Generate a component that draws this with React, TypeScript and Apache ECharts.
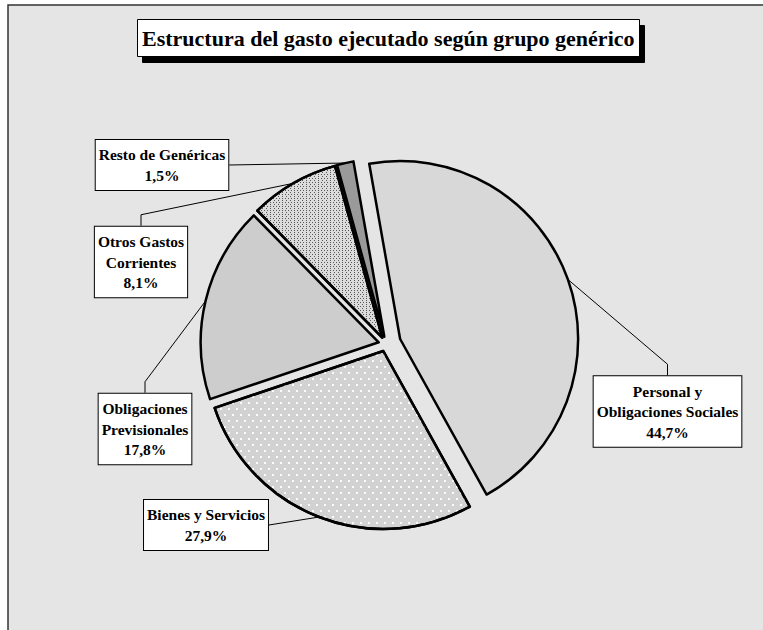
import React, { useEffect, useRef } from "react";
import * as echarts from "echarts";

// ---- data ----
const titleText = "Estructura del gasto ejecutado según grupo genérico";
const categories = [
  "Personal y\nObligaciones Sociales",
  "Bienes y Servicios",
  "Obligaciones\nPrevisionales",
  "Otros Gastos\nCorrientes",
  "Resto de Genéricas",
];
const shares = [44.7, 27.9, 17.8, 8.1, 1.5];

// ---- layout / style (not data) ----
const W = 763;
const H = 630;
const pieCenter = [386, 344];
const pieRadius = 178;
const pieStartAngle = 100;
const explode = [15, 7.5, 7.5, 7.5, 7.5];
const labelCenters = [
  [667.5, 411.5],
  [206, 525],
  [145, 429],
  [141, 262],
  [162, 165],
];
const leaderSide = ["top", "right", "top", "top", "right"];
const sliceColors = ["#d8d8d8", "#d2d2d2", "#cdcdcd", "#dcdcdc", "#9a9a9a"];
const sliceDecals: any[] = [
  null,
  {
    symbol: "rect",
    symbolSize: 1,
    color: "rgba(255,255,255,0.9)",
    dashArrayX: [[2, 6], [0, 4, 2, 2]],
    dashArrayY: [2, 4],
    rotation: 0,
  },
  null,
  {
    symbol: "rect",
    symbolSize: 1,
    color: "rgba(30,30,30,0.7)",
    dashArrayX: [[1, 2], [0, 1.5, 1, 0.5]],
    dashArrayY: [1, 1],
    rotation: 0,
  },
  null,
];
const serif = "'Liberation Serif', 'Times New Roman', serif";

const fmtPct = (v: number) => v.toFixed(1).replace(".", ",") + "%";

const total = shares.reduce((a, b) => a + b, 0);

// exploded centre of slice i (pie explosion along the slice bisector)
function sliceCenter(i: number) {
  let before = 0;
  for (let j = 0; j < i; j++) before += shares[j];
  const startFromTop = 90 - pieStartAngle;
  const mid = startFromTop + ((before + shares[i] / 2) / total) * 360;
  const rad = (mid * Math.PI) / 180;
  return [
    pieCenter[0] + explode[i] * Math.sin(rad),
    pieCenter[1] - explode[i] * Math.cos(rad),
  ];
}

function buildData(k: number) {
  return categories.map((name, i) => {
    const show = i === k;
    const itemStyle: any = show
      ? {
          color: sliceColors[i],
          borderColor: "#000",
          borderWidth: 2.5,
          ...(sliceDecals[i] ? { decal: sliceDecals[i] } : {}),
        }
      : { color: "rgba(0,0,0,0)", borderWidth: 0, borderColor: "rgba(0,0,0,0)" };
    return {
      name,
      value: shares[i],
      itemStyle,
      label: { show },
      labelLine: { show },
    };
  });
}

function pieSeries(k: number) {
  return {
    type: "pie",
    center: sliceCenter(k),
    radius: pieRadius,
    startAngle: pieStartAngle,
    clockwise: true,
    avoidLabelOverlap: false,
    silent: true,
    emphasis: { disabled: true },
    label: {
      show: true,
      position: "outside",
      formatter: (p: any) => `${p.name}\n${fmtPct(p.value)}`,
      fontFamily: serif,
      fontWeight: "bold",
      fontSize: 15.5,
      lineHeight: 20.5,
      color: "#000",
      align: "center",
      backgroundColor: "#fff",
      borderColor: "#000",
      borderWidth: 1,
      padding: [4.5, 3, 4.5, 3],
    },
    labelLine: {
      show: true,
      length: 10,
      length2: 11,
      lineStyle: { color: "#000", width: 1 },
    },
    labelLayout: (params: any) => {
      const i = params.dataIndex;
      const c = labelCenters[i];
      const w = params.labelRect.width;
      const h = params.labelRect.height;
      const anchor = params.labelLinePoints
        ? params.labelLinePoints[0]
        : [c[0], c[1]];
      let pts;
      if (leaderSide[i] === "top") {
        const top = c[1] - h / 2;
        pts = [anchor, [c[0], top - 11], [c[0], top]];
      } else {
        const right = c[0] + w / 2;
        pts = [anchor, [right, c[1]], [right, c[1]]];
      }
      return {
        x: c[0],
        y: c[1],
        align: "center",
        verticalAlign: "middle",
        labelLinePoints: pts,
      };
    },
    data: buildData(k),
  };
}

export default function App() {
  const ref = useRef<HTMLDivElement>(null);
  useEffect(() => {
    if (!ref.current) return;
    const chart = echarts.init(ref.current, undefined, { renderer: "svg" });
    chart.setOption({
      animation: false,
      backgroundColor: "#ffffff",
      title: {
        text: titleText,
        left: 137,
        top: 19,
        padding: [5, 5, 5, 5],
        backgroundColor: "#ffffff",
        borderColor: "#000",
        borderWidth: 1,
        shadowColor: "#000",
        shadowBlur: 0,
        shadowOffsetX: 5,
        shadowOffsetY: 6,
        textStyle: {
          fontFamily: serif,
          fontWeight: "bold",
          fontSize: 22,
          lineHeight: 28,
          color: "#000",
        },
      },
      graphic: [
        {
          type: "rect",
          z: -10,
          silent: true,
          shape: { x: 8, y: 5, width: 800, height: 700 },
          style: { fill: "#e5e5e5", stroke: "#333", lineWidth: 1.5 },
        },
      ],
      series: categories.map((_, k) => pieSeries(k)),
    });
    return () => chart.dispose();
  }, []);
  return (
    <div
      ref={ref}
      style={{ position: "absolute", left: 0, top: 0, width: W, height: H }}
    />
  );
}
